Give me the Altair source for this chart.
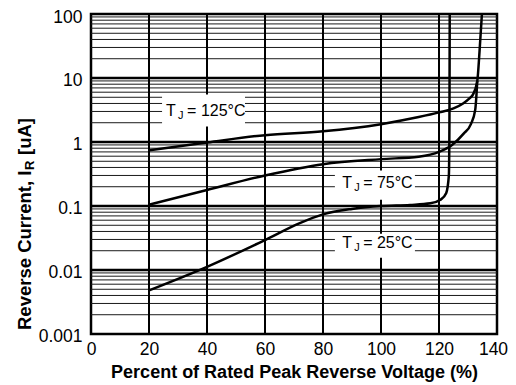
import altair as alt
import pandas as pd

# ---- data ----
x_125 = [20, 40, 60, 80, 100, 113, 120, 125, 128.3, 130.5, 131.7, 133.2, 134.0, 134.8]
y_125 = [0.74, 0.98, 1.28, 1.47, 1.9, 2.45, 2.9, 3.35, 4.0, 4.8, 5.5, 9.0, 27, 100]

x_75 = [20, 40, 60, 80, 100, 113, 120, 124.5, 128.5, 131.0, 132.5, 133.2]
y_75 = [0.105, 0.178, 0.30, 0.45, 0.54, 0.59, 0.70, 0.9, 1.35, 1.9, 3.2, 9.0]

x_25 = [20, 40, 60, 72, 80, 90, 100, 110, 117, 120.5, 122.5, 123.4, 123.6, 123.7]
y_25 = [0.0048, 0.0112, 0.0294, 0.054, 0.074, 0.09, 0.1, 0.104, 0.11, 0.125, 0.16, 0.3, 2, 100]

x_ticks = [0, 20, 40, 60, 80, 100, 120, 140]
x_grid = [20, 40, 60, 80, 100, 120]
y_ticks = [0.001, 0.01, 0.1, 1, 10, 100]
decades = [0.001, 0.01, 0.1, 1, 10]
minor_mult = [2, 3, 4, 5, 6, 7, 8, 9]

label_temps = ["125", "75", "25"]
label_x = [25.9, 86.6, 86.6]
label_y = [3.0, 0.225, 0.026]
box_x1 = [24.5, 84.1, 84.1]
box_x2 = [53.1, 111.7, 111.7]
box_y1 = [1.75, 0.125, 0.0155]
box_y2 = [5.5, 0.36, 0.037]

FONT = "Liberation Sans"

curves = pd.concat([
    pd.DataFrame({"x": x_125, "y": y_125, "s": "125"}),
    pd.DataFrame({"x": x_75, "y": y_75, "s": "75"}),
    pd.DataFrame({"x": x_25, "y": y_25, "s": "25"}),
])
minor_df = pd.DataFrame({"v": [d * m for d in decades for m in minor_mult]})
major_df = pd.DataFrame({"v": y_ticks[1:-1]})
vgrid_df = pd.DataFrame({"v": x_grid})
labels = pd.DataFrame({
    "x": label_x, "y": label_y,
    "rest": ["= " + t + "°C" for t in label_temps],
    "x1": box_x1, "x2": box_x2, "y1": box_y1, "y2": box_y2,
})

xs = alt.Scale(domain=[0, 140], nice=False, zero=False)
ys = alt.Scale(type="log", domain=[0.001, 100], nice=False)

minor = alt.Chart(minor_df).mark_rule(color="#1a1a1a", strokeWidth=1).encode(
    y=alt.Y("v:Q", scale=ys, axis=alt.Axis(
        values=y_ticks, format="~g", title=None, labelPadding=9, labelFlush=False,
        labelOffset={"condition": {"test": "datum.value === 100", "value": 3.5}, "value": 2}))
)
major = alt.Chart(major_df).mark_rule(color="black", strokeWidth=2.5).encode(
    y=alt.Y("v:Q", scale=ys)
)
vgrid = alt.Chart(vgrid_df).mark_rule(color="black", strokeWidth=2).encode(
    x=alt.X("v:Q", scale=xs, axis=alt.Axis(
        values=x_ticks, labelPadding=6, labelFlush=False,
        labelOffset={"condition": {"test": "datum.value === 140", "value": -4}, "value": 0},
        title="Percent of Rated Peak Reverse Voltage (%)", titlePadding=6))
)
boxes = alt.Chart(labels).mark_rect(fill="white", stroke=None).encode(
    x=alt.X("x1:Q", scale=xs), x2="x2:Q",
    y=alt.Y("y1:Q", scale=ys), y2="y2:Q",
)
lines = alt.Chart(curves).mark_line(color="black", strokeWidth=2.5, interpolate="monotone").encode(
    x=alt.X("x:Q", scale=xs), y=alt.Y("y:Q", scale=ys), detail="s:N"
)
base_t = alt.Chart(labels).encode(x=alt.X("x:Q", scale=xs), y=alt.Y("y:Q", scale=ys))
t_T = base_t.mark_text(align="left", baseline="middle", font=FONT, fontSize=16,
                       color="black").encode(text=alt.value("T"))
t_J = base_t.mark_text(align="left", baseline="middle", font=FONT, fontSize=11, dx=12, dy=5,
                       color="black").encode(text=alt.value("J"))
t_R = base_t.mark_text(align="left", baseline="middle", font=FONT, fontSize=16, dx=21,
                       color="black").encode(text="rest:N")

one = pd.DataFrame({"k": [0]})
ytx, yty = -66, 316
yt1 = alt.Chart(one).mark_text(angle=270, align="left", baseline="middle", font=FONT,
                               fontSize=18.5, fontWeight="bold", color="black").encode(
    x=alt.value(ytx), y=alt.value(yty), text=alt.value("Reverse Current, I"))
yt2 = alt.Chart(one).mark_text(angle=270, align="left", baseline="middle", font=FONT,
                               fontSize=13, fontWeight="bold", color="black", dx=160, dy=5).encode(
    x=alt.value(ytx), y=alt.value(yty), text=alt.value("R"))
yt3 = alt.Chart(one).mark_text(angle=270, align="left", baseline="middle", font=FONT,
                               fontSize=18.5, fontWeight="bold", color="black", dx=175).encode(
    x=alt.value(ytx), y=alt.value(yty), text=alt.value("[uA]"))

chart = alt.layer(minor, major, vgrid, boxes, lines, t_T, t_J, t_R, yt1, yt2, yt3).properties(
    width=406, height=320,
    autosize=alt.AutoSizeParams(type="none"),
    padding={"left": 83, "top": 6, "right": 11, "bottom": 50},
).configure_view(stroke="black", strokeWidth=2.5).configure_axis(
    domain=False, ticks=False, grid=False,
    labelFont=FONT, labelFontSize=17.5, labelColor="black",
    titleFont=FONT, titleFontSize=18, titleFontWeight="bold", titleColor="black",
)

chart.save("out.html", embed_options={"renderer": "svg", "actions": False})
